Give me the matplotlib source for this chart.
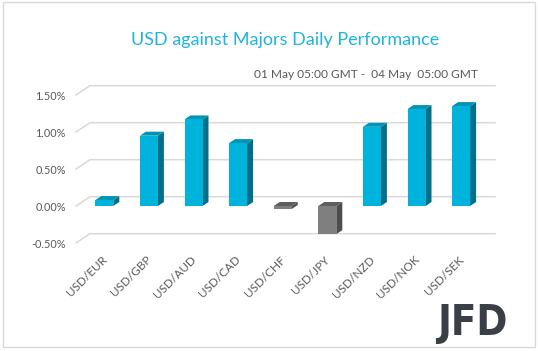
import numpy as np
import matplotlib.pyplot as plt
from matplotlib.patches import Polygon, Rectangle

pairs = ["USD/EUR", "USD/GBP", "USD/AUD", "USD/CAD", "USD/CHF",
         "USD/JPY", "USD/NZD", "USD/NOK", "USD/SEK"]
perf = [0.08, 0.95, 1.17, 0.85, -0.04, -0.38, 1.07, 1.31, 1.35]
yticks = [-0.5, 0.0, 0.5, 1.0, 1.5]

plt.rcParams['font.family'] = ['Lato', 'DejaVu Sans']

W, H = 538, 351
fig = plt.figure(figsize=(W / 100, H / 100), dpi=100)

# pixel geometry of the front plane
x0_px, step_px = 82, 44.6     # left edge of category -0.5, px per category
zero_px, unit_px = 206, 74    # y pixel of 0%, px per 1%
xlo, xhi = -0.9, 9.0
ylo, yhi = -0.7, 1.7
left = x0_px + (xlo + 0.5) * step_px
top = zero_px - yhi * unit_px
bottom = zero_px - ylo * unit_px
ax = fig.add_axes([left / W, 1 - bottom / H,
                   (xhi - xlo) * step_px / W, (bottom - top) / H])
ax.set_xlim(xlo, xhi)
ax.set_ylim(ylo, yhi)
ax.axis('off')

# 3D offsets (back wall and bar depth) in data units
wall_dx, wall_dy = 14 / step_px, 9.3 / unit_px
bar_dx, bar_dy = 6 / step_px, 4 / unit_px
bw = 18 / step_px

grid_c = '#D9D9D9'
x_front = -0.5 - 6 / step_px
x_end = -0.5 + 413 / step_px
for t in yticks:
    ax.plot([x_front, x_front + wall_dx, x_end],
            [t, t + wall_dy, t + wall_dy], color=grid_c, lw=1.1, zorder=1)
    ax.text(x_front - 10 / step_px, t - 0.02, f"{t:.2f}%", ha='right',
            va='center', fontsize=7.8, color='#595959')

for i, v in enumerate(perf):
    if v >= 0:
        cf, ct, cs = '#00B3DC', '#0094B5', '#00708A'
    else:
        cf, ct, cs = '#7F7F7F', '#5E5E5E', '#4D4D4D'
    lo, hi = min(v, 0), max(v, 0)
    xl, xr = i - bw / 2, i + bw / 2
    ax.add_patch(Polygon([(xr, lo), (xr + bar_dx, lo + bar_dy),
                          (xr + bar_dx, hi + bar_dy), (xr, hi)],
                         closed=True, fc=cs, ec='none', zorder=3))
    ax.add_patch(Polygon([(xl, hi), (xr, hi), (xr + bar_dx, hi + bar_dy),
                          (xl + bar_dx, hi + bar_dy)],
                         closed=True, fc=ct, ec='none', zorder=3))
    ax.add_patch(Rectangle((xl, lo), bw, hi - lo, fc=cf, ec='none', zorder=4))
    ax.text(i + 0.02, -0.70, pairs[i], rotation=45, rotation_mode='anchor',
            ha='right', va='center', fontsize=8.5, color='#595959')

fig.text(285 / W, 1 - 40 / H, "USD against Majors Daily Performance",
         ha='center', va='center', fontsize=13, color='#1EB4E0')
fig.text(478 / W, 1 - 74 / H, "01 May 05:00 GMT -  04 May  05:00 GMT",
         ha='right', va='center', fontsize=8.6, color='#595959')
fig.text(508 / W, 1 - 323 / H, "JFD", ha='right', va='center',
         fontsize=30, fontweight='bold', color='#3A3F47',
         family='DejaVu Sans', fontstretch='condensed')

fig.patches.append(Rectangle((3 / W, 1 - 347 / H), 532 / W, 345 / H,
                             transform=fig.transFigure, fill=False,
                             ec='#D9D9D9', lw=1))

fig.savefig('out.png', dpi=100)
